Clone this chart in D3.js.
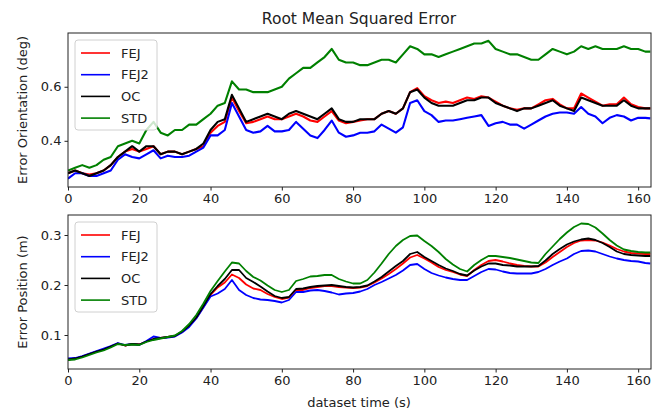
<!DOCTYPE html>
<html>
<head>
<meta charset="utf-8">
<script src="https://cdn.jsdelivr.net/npm/d3@7"></script>
<style>
  body { margin: 0; background: #fff; }
  svg { display: block; font-family: "DejaVu Sans", sans-serif; }
</style>
</head>
<body>
<svg id="canvas" width="652" height="413"></svg>
<script>
// dataset time (s), sampled every 2 s
const times = [0,2,4,6,8,10,12,14,16,18,20,22,24,26,28,30,32,34,36,38,
  40,42,44,46,48,50,52,54,56,58,60,62,64,66,68,70,72,74,76,78,
  80,82,84,86,88,90,92,94,96,98,100,102,104,106,108,110,112,114,116,118,
  120,122,124,126,128,130,132,134,136,138,140,142,144,146,148,150,152,154,156,158,
  160,162,163.4];

const seriesNames = ["FEJ", "FEJ2", "OC", "STD"];
const seriesColors = ["#ff0000", "#0000ff", "#000000", "#008000"];

// orientation error (deg)
const oriFEJ = [0.28,0.29,0.28,0.275,0.28,0.29,0.31,0.34,0.36,0.37,
  0.36,0.37,0.38,0.35,0.36,0.36,0.35,0.36,0.37,0.38,
  0.43,0.455,0.47,0.56,0.51,0.465,0.47,0.48,0.49,0.48,
  0.48,0.49,0.50,0.49,0.475,0.47,0.49,0.51,0.475,0.465,
  0.47,0.475,0.48,0.48,0.50,0.51,0.50,0.52,0.58,0.595,
  0.565,0.55,0.54,0.545,0.54,0.55,0.56,0.555,0.565,0.56,
  0.545,0.53,0.52,0.515,0.52,0.52,0.535,0.55,0.555,0.535,
  0.52,0.52,0.575,0.56,0.545,0.53,0.535,0.535,0.56,0.535,
  0.525,0.52,0.52];
const oriFEJ2 = [0.26,0.28,0.28,0.27,0.27,0.28,0.29,0.33,0.35,0.34,
  0.335,0.35,0.365,0.335,0.345,0.34,0.34,0.345,0.36,0.375,
  0.42,0.42,0.44,0.54,0.49,0.44,0.43,0.435,0.455,0.435,
  0.435,0.44,0.47,0.445,0.42,0.41,0.44,0.475,0.43,0.415,
  0.42,0.43,0.43,0.435,0.46,0.445,0.43,0.45,0.54,0.55,
  0.51,0.495,0.47,0.475,0.475,0.48,0.485,0.49,0.495,0.455,
  0.465,0.47,0.46,0.46,0.445,0.46,0.475,0.49,0.50,0.505,
  0.505,0.50,0.525,0.50,0.49,0.465,0.485,0.495,0.49,0.475,
  0.485,0.485,0.483];
const oriOC = [0.28,0.29,0.28,0.27,0.28,0.29,0.31,0.34,0.36,0.38,
  0.36,0.38,0.38,0.35,0.36,0.36,0.35,0.36,0.37,0.39,
  0.44,0.47,0.48,0.57,0.52,0.47,0.48,0.49,0.50,0.49,
  0.48,0.50,0.51,0.50,0.49,0.48,0.50,0.52,0.48,0.47,
  0.47,0.48,0.48,0.48,0.50,0.51,0.50,0.52,0.58,0.59,
  0.56,0.54,0.53,0.53,0.53,0.54,0.55,0.55,0.56,0.56,
  0.54,0.53,0.52,0.51,0.52,0.52,0.53,0.54,0.55,0.53,
  0.52,0.51,0.56,0.55,0.54,0.53,0.53,0.53,0.55,0.53,
  0.52,0.52,0.52];
const oriSTD = [0.29,0.30,0.31,0.30,0.31,0.33,0.34,0.38,0.39,0.40,
  0.39,0.44,0.47,0.43,0.42,0.44,0.44,0.46,0.46,0.48,
  0.50,0.53,0.54,0.62,0.59,0.59,0.58,0.58,0.58,0.59,
  0.60,0.63,0.65,0.67,0.67,0.69,0.71,0.74,0.70,0.69,
  0.69,0.68,0.68,0.69,0.70,0.70,0.69,0.72,0.75,0.74,
  0.72,0.72,0.71,0.72,0.73,0.74,0.75,0.76,0.76,0.77,
  0.74,0.73,0.72,0.72,0.71,0.70,0.70,0.72,0.74,0.73,
  0.72,0.73,0.75,0.74,0.75,0.74,0.74,0.74,0.75,0.74,
  0.74,0.73,0.73];

// position error (m)
const posFEJ = [0.051,0.053,0.057,0.062,0.067,0.071,0.077,0.083,0.079,0.082,
  0.081,0.087,0.092,0.094,0.096,0.098,0.106,0.118,0.134,0.156,
  0.18,0.195,0.205,0.221,0.214,0.201,0.193,0.19,0.182,0.176,
  0.172,0.175,0.19,0.19,0.194,0.196,0.198,0.198,0.196,0.195,
  0.194,0.195,0.198,0.205,0.213,0.222,0.232,0.243,0.255,0.26,
  0.253,0.245,0.236,0.23,0.226,0.221,0.218,0.23,0.24,0.248,
  0.25,0.247,0.243,0.24,0.238,0.237,0.237,0.245,0.256,0.266,
  0.276,0.284,0.289,0.29,0.289,0.285,0.279,0.272,0.267,0.264,
  0.263,0.262,0.262];
const posFEJ2 = [0.053,0.054,0.058,0.063,0.068,0.073,0.078,0.084,0.08,0.082,
  0.08,0.088,0.097,0.094,0.095,0.097,0.105,0.116,0.133,0.155,
  0.177,0.183,0.192,0.21,0.19,0.18,0.174,0.171,0.17,0.168,
  0.165,0.17,0.186,0.186,0.189,0.19,0.188,0.185,0.181,0.183,
  0.184,0.187,0.192,0.2,0.206,0.213,0.22,0.229,0.24,0.242,
  0.232,0.224,0.219,0.215,0.212,0.21,0.21,0.218,0.226,0.232,
  0.231,0.227,0.224,0.223,0.223,0.223,0.226,0.232,0.24,0.247,
  0.253,0.262,0.268,0.269,0.267,0.262,0.257,0.253,0.25,0.248,
  0.247,0.244,0.243];
const posOC = [0.051,0.053,0.057,0.062,0.067,0.071,0.077,0.083,0.079,0.082,
  0.081,0.087,0.092,0.094,0.096,0.098,0.107,0.119,0.135,0.158,
  0.182,0.198,0.212,0.23,0.23,0.214,0.206,0.197,0.187,0.178,
  0.174,0.176,0.192,0.193,0.196,0.198,0.199,0.20,0.198,0.196,
  0.195,0.196,0.199,0.207,0.216,0.227,0.238,0.248,0.262,0.266,
  0.256,0.248,0.24,0.233,0.228,0.222,0.219,0.229,0.237,0.243,
  0.243,0.24,0.239,0.237,0.237,0.237,0.238,0.249,0.262,0.272,
  0.281,0.287,0.291,0.293,0.29,0.284,0.276,0.267,0.262,0.26,
  0.259,0.258,0.258];
const posSTD = [0.05,0.051,0.055,0.06,0.065,0.069,0.075,0.082,0.08,0.081,
  0.08,0.086,0.09,0.093,0.096,0.099,0.108,0.122,0.14,0.163,
  0.188,0.208,0.227,0.245,0.243,0.228,0.216,0.209,0.199,0.19,
  0.186,0.19,0.208,0.212,0.217,0.218,0.22,0.22,0.212,0.207,
  0.203,0.203,0.21,0.225,0.243,0.262,0.278,0.29,0.298,0.299,
  0.288,0.278,0.266,0.252,0.241,0.232,0.227,0.24,0.25,0.258,
  0.258,0.256,0.254,0.251,0.248,0.245,0.244,0.262,0.277,0.292,
  0.305,0.316,0.323,0.322,0.315,0.303,0.29,0.279,0.271,0.268,
  0.266,0.265,0.265];

const xTicks = [0,20,40,60,80,100,120,140,160];
const oriTicks = [0.4, 0.6];
const posTicks = [0.1, 0.2, 0.3];

let svg = d3.select("#canvas");

const left = 68, right = 651;
let x = d3.scaleLinear().domain([0, 163.6]).range([left, right]);

// draw one subplot
let panel = (top, bottom, yDomain, yTicks, series, ylabel, lw) => {
  let y = d3.scaleLinear().domain(yDomain).range([bottom, top]);
  let g = svg.append("g");

  let clipId = "clip" + top;
  g.append("clipPath").attr("id", clipId)
    .append("rect").attr("x", left).attr("y", top)
    .attr("width", right - left).attr("height", bottom - top);

  let line = d3.line()
    .x((d, i) => x(times[i]))
    .y(d => y(d));

  g.append("g").attr("clip-path", "url(#" + clipId + ")")
    .selectAll("path")
    .data(series)
    .enter()
    .append("path")
    .attr("fill", "none")
    .attr("stroke", (d, i) => seriesColors[i])
    .attr("stroke-width", lw)
    .attr("stroke-linejoin", "round")
    .attr("d", d => line(d));

  let xAxis = g.append("g")
    .attr("transform", "translate(0," + bottom + ")")
    .call(d3.axisBottom(x).tickValues(xTicks).tickSize(3.5).tickPadding(3).tickFormat(d3.format("d")));
  let yAxis = g.append("g")
    .attr("transform", "translate(" + left + ",0)")
    .call(d3.axisLeft(y).tickValues(yTicks).tickSize(3.5).tickPadding(3).tickFormat(d3.format(".1f")));
  [xAxis, yAxis].forEach(a => {
    a.select(".domain").remove();
    a.selectAll("line").attr("stroke", "#222");
    a.selectAll("text").attr("fill", "#222").style("font-size", "13px")
      .style("font-family", "DejaVu Sans, sans-serif");
  });

  // frame
  g.append("rect")
    .attr("x", left).attr("y", top)
    .attr("width", right - left).attr("height", bottom - top)
    .attr("fill", "none").attr("stroke", "#222").attr("stroke-width", 1);

  g.append("text")
    .attr("transform", "translate(22," + (top + bottom) / 2 + ") rotate(-90)")
    .attr("text-anchor", "middle")
    .attr("dominant-baseline", "central")
    .attr("fill", "#222")
    .style("font-size", "13px")
    .text(ylabel);

  // legend
  let leg = g.append("g").attr("transform", "translate(75," + (top + 7) + ")");
  leg.append("rect")
    .attr("width", 82).attr("height", 90).attr("rx", 3)
    .attr("fill", "white").attr("fill-opacity", 0.8)
    .attr("stroke", "#d0d0d0");
  seriesNames.forEach((name, i) => {
    let yy = 13 + i * 21.7;
    leg.append("line")
      .attr("x1", 6).attr("x2", 35).attr("y1", yy).attr("y2", yy)
      .attr("stroke", seriesColors[i]).attr("stroke-width", 1.6);
    leg.append("text")
      .attr("x", 46).attr("y", yy)
      .attr("dominant-baseline", "central")
      .attr("fill", "#222")
      .style("font-size", "13px")
      .text(name);
  });
};

panel(33, 187, [0.229, 0.799], oriTicks, [oriFEJ, oriFEJ2, oriOC, oriSTD], "Error Orientation (deg)", 2.1);
panel(215, 369, [0.032, 0.34], posTicks, [posFEJ, posFEJ2, posOC, posSTD], "Error Position (m)", 1.8);

svg.append("text")
  .attr("x", 359).attr("y", 24)
  .attr("text-anchor", "middle")
  .attr("fill", "#222")
  .style("font-size", "15.5px")
  .text("Root Mean Squared Error");

svg.append("text")
  .attr("x", 359).attr("y", 407)
  .attr("text-anchor", "middle")
  .attr("fill", "#222")
  .style("font-size", "13px")
  .text("dataset time (s)");
</script>
</body>
</html>
